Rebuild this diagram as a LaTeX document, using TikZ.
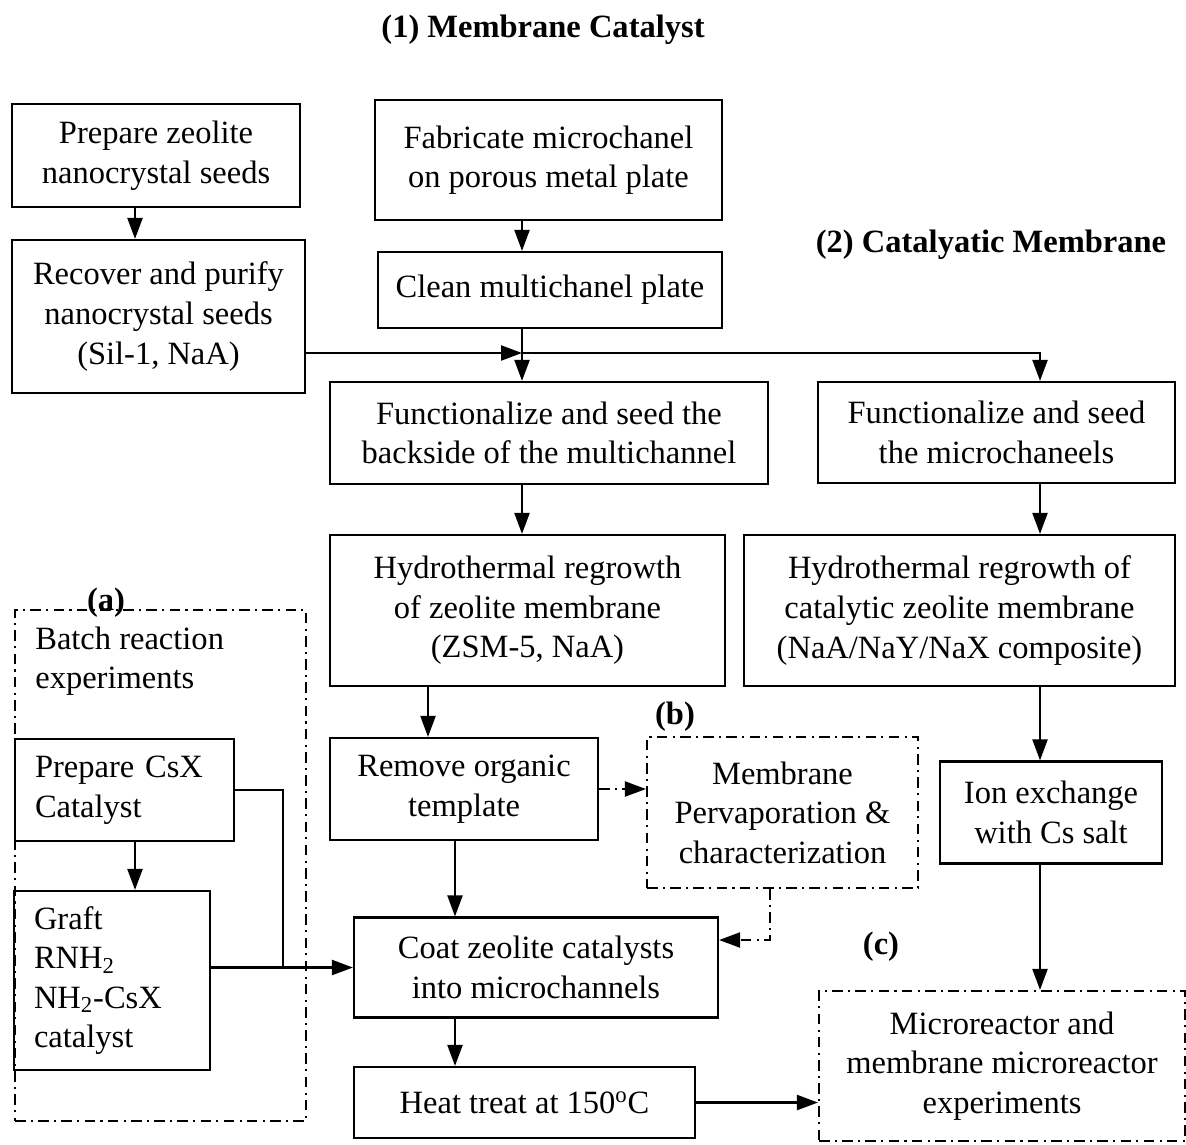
\documentclass[tikz,border=0pt]{standalone}
\usepackage{fontspec}
\setmainfont{Liberation Serif}
\usetikzlibrary{arrows.meta,positioning}

\begin{document}
\begin{tikzpicture}[
    x=0.02cm, y=-0.02cm,
    every node/.style={font=\fontsize{18.5}{22.5}\selectfont},
    box/.style={draw, line width=1.25pt, align=center, inner sep=0pt},
    leftbox/.style={box, align=left, inner xsep=0.4cm},
    trial/.style={draw, line width=1.25pt, dash pattern=on 6pt off 3pt on 1.2pt off 3pt, align=center, inner sep=0pt},
    tag/.style={font=\fontsize{18.5}{22.5}\selectfont\bfseries},
    flow/.style={-{Triangle[length=0.42cm,width=0.3cm]}, line width=1.25pt},
    sideflow/.style={flow, dash pattern=on 6pt off 3pt on 1.2pt off 3pt}
]
\useasboundingbox (0,0) rectangle (1186,1144);
\coordinate (split) at (522,353);
\coordinate (rcol) at (1040,353);
\coordinate (lcol) at (135,0);
\coordinate (tcol) at (428,0);
\coordinate (mcol) at (455,0);
\coordinate (joint) at (283,967.5);
\coordinate (back) at (770,940);

\node[tag] (title1) at (543,30) {(1) Membrane Catalyst};
\node[tag] (title2) at (991,245) {(2) Catalyatic Membrane};

\node[box, minimum width=5.76cm, minimum height=2.06cm] (seeds) at (156,155.5) {Prepare zeolite\\nanocrystal seeds};
\node[box, minimum width=5.86cm, minimum height=3.06cm] (recover) at (158.5,316.5) {Recover and purify\\nanocrystal seeds\\(Sil-1, NaA)};
\node[box, minimum width=6.94cm, minimum height=2.4cm] (fabricate) at (548.5,160) {Fabricate microchanel\\on porous metal plate};
\node[box, minimum width=6.88cm, minimum height=1.52cm] (clean) at (550,290) {Clean multichanel plate};
\node[box, minimum width=8.76cm, minimum height=2.04cm] (funcback) at (549,433) {Functionalize and seed the\\backside of the multichannel};
\node[box, minimum width=7.14cm, minimum height=2.02cm] (funcmicro) at (996.5,432.5) {Functionalize and seed\\the microchaneels};
\node[box, minimum width=7.9cm, minimum height=3.02cm] (hydro) at (527.5,610.5) {Hydrothermal regrowth\\of zeolite membrane\\(ZSM-5, NaA)};
\node[box, minimum width=8.62cm, minimum height=3.02cm] (hydrocat) at (959.5,610.5) {Hydrothermal regrowth of\\catalytic zeolite membrane\\(NaA/NaY/NaX composite)};
\node[box, minimum width=5.36cm, minimum height=2.04cm] (remove) at (464,789) {Remove organic\\template};
\node[trial, minimum width=5.42cm, minimum height=3.02cm] (perv) at (782.5,812.5) {Membrane\\Pervaporation \&\\characterization};
\node[box, minimum width=4.44cm, minimum height=2.04cm] (ion) at (1051,812.5) {Ion exchange\\with Cs salt};
\node[box, minimum width=7.28cm, minimum height=2cm] (coat) at (536,967.5) {Coat zeolite catalysts\\into microchannels};
\node[box, minimum width=6.82cm, minimum height=1.42cm] (heat) at (524.5,1102.5) {Heat treat at 150\textsuperscript{o}C};
\node[trial, minimum width=7.32cm, minimum height=3cm] (micro) at (1002,1066) {Microreactor and\\membrane microreactor\\experiments};

% batch reaction part
\node[trial, minimum width=5.82cm, minimum height=10.22cm] (batch) at (160.5,865.5) {};
\node[anchor=west, align=left, inner sep=0pt] (batchtxt) at (35,661) {Batch reaction\\experiments};
\node[leftbox, text width=3.58cm, minimum height=2.04cm] (csx) at (124.5,790) {Prepare CsX\\Catalyst};
\node[leftbox, text width=3.12cm, minimum height=3.58cm] (graft) at (112,980.5) {Graft\\RNH\textsubscript{2}\\NH\textsubscript{2}-CsX\\catalyst};

\node[tag] (taga) at (106,603) {(a)};
\node[tag] (tagb) at (675,717) {(b)};
\node[tag] (tagc) at (881,947) {(c)};

\draw[flow] (seeds.south -| lcol) -- (recover.north -| lcol);
\draw[flow] (fabricate.south -| split) -- (clean.north -| split);
\draw[flow] (clean.south -| split) -- (funcback.north -| split);
\draw[flow] (recover.east |- split) -- (split);
\draw[flow] (split) -| (funcmicro.north -| rcol);
\draw[flow] (funcback.south -| split) -- (hydro.north -| split);
\draw[flow] (funcmicro.south -| rcol) -- (hydrocat.north -| rcol);
\draw[flow] (hydro.south -| tcol) -- (remove.north -| tcol);
\draw[flow] (remove.south -| mcol) -- (coat.north -| mcol);
\draw[sideflow] (remove.east) -- (perv.west |- remove.east);
\draw[sideflow] (perv.south -| back) |- (coat.east |- back);
\draw[flow] (hydrocat.south -| rcol) -- (ion.north -| rcol);
\draw[flow] (ion.south -| rcol) -- (micro.north -| rcol);
\draw[flow] (coat.south -| mcol) -- (heat.north -| mcol);
\draw[flow] (heat.east) -- (micro.west |- heat.east);
\draw[flow] (csx.south -| lcol) -- (graft.north -| lcol);
\draw[line width=1.25pt] (csx.east) -| (joint);
\draw[flow] (graft.east |- joint) -- (coat.west |- joint);
\end{tikzpicture}
\end{document}
